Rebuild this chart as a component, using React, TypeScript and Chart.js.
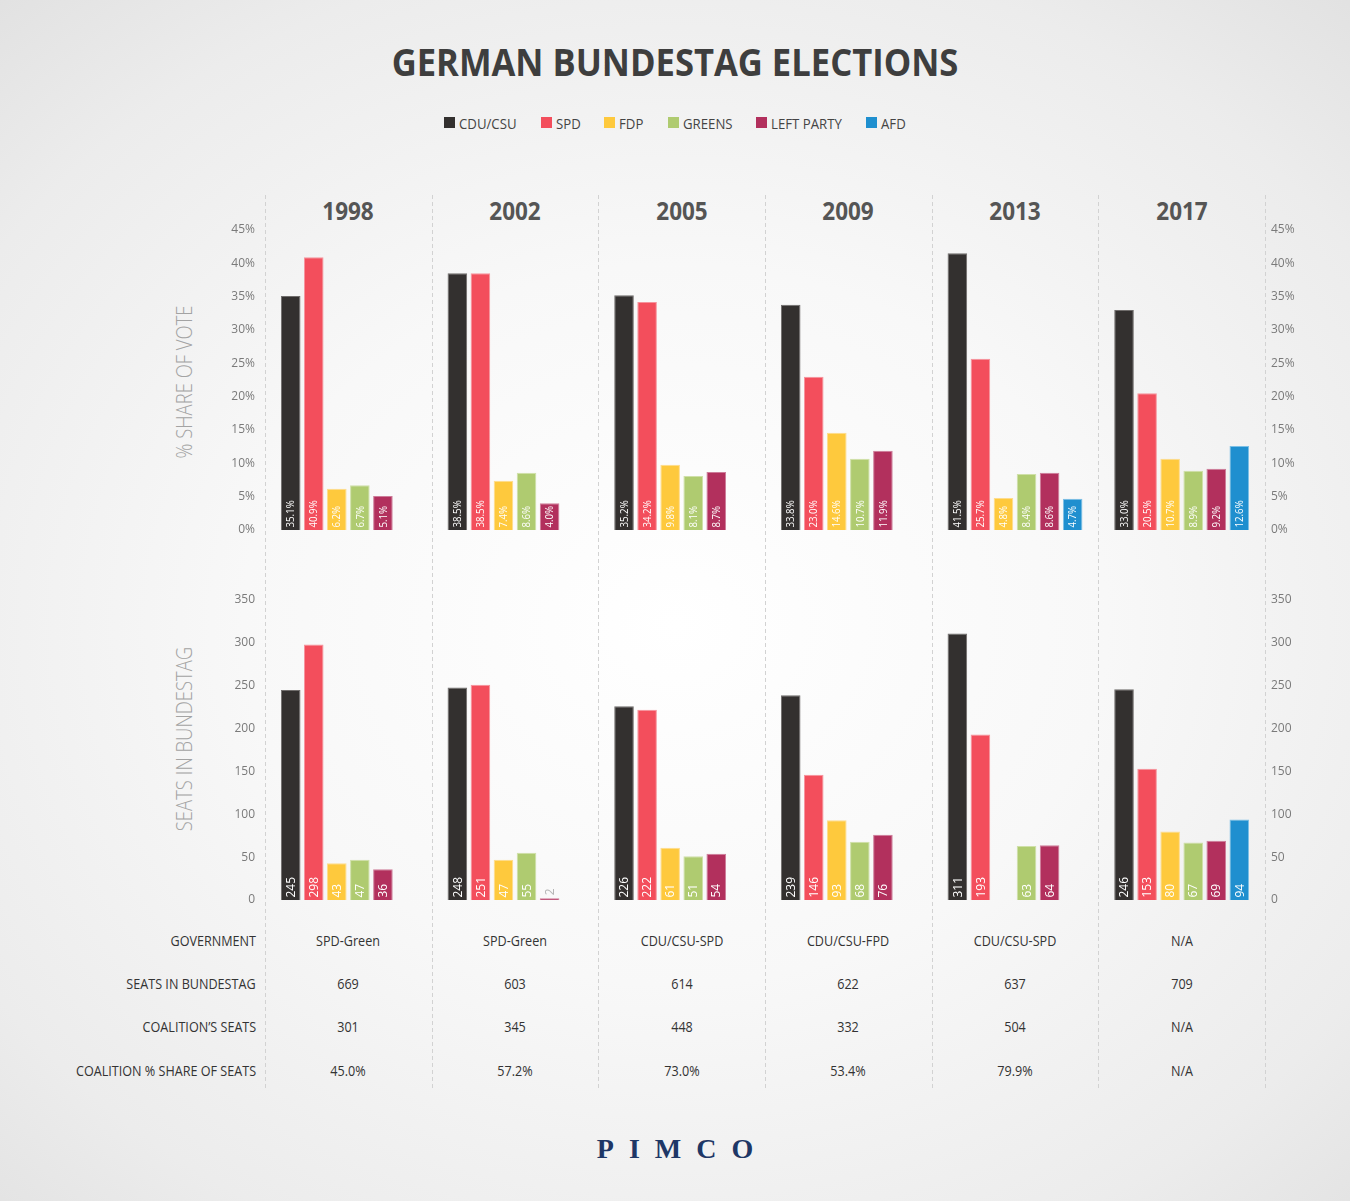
import { useEffect, useRef } from 'react';
import Chart from 'chart.js/auto';

const YEARS = ['1998', '2002', '2005', '2009', '2013', '2017'];
const PARTIES = ['CDU/CSU', 'SPD', 'FDP', 'GREENS', 'LEFT PARTY', 'AFD'];
const PARTY_COLORS = ['#33302f', '#f34e5c', '#fec93d', '#afcb70', '#b2305d', '#1f8fcf'];
const PARTY_EDGES = ['#6f6c6b', '#f6939c', '#fedc8c', '#cfe0a8', '#cd7c99', '#7bbfe6'];

// % share of vote, per party, per election year (null = no bar)
const VOTE_CDU = [35.1, 38.5, 35.2, 33.8, 41.5, 33.0];
const VOTE_SPD = [40.9, 38.5, 34.2, 23.0, 25.7, 20.5];
const VOTE_FDP = [6.2, 7.4, 9.8, 14.6, 4.8, 10.7];
const VOTE_GREENS = [6.7, 8.6, 8.1, 10.7, 8.4, 8.9];
const VOTE_LEFT = [5.1, 4.0, 8.7, 11.9, 8.6, 9.2];
const VOTE_AFD = [null, null, null, null, 4.7, 12.6];

// seats in Bundestag
const SEATS_CDU = [245, 248, 226, 239, 311, 246];
const SEATS_SPD = [298, 251, 222, 146, 193, 153];
const SEATS_FDP = [43, 47, 61, 93, null, 80];
const SEATS_GREENS = [47, 55, 51, 68, 63, 67];
const SEATS_LEFT = [36, 2, 54, 76, 64, 69];
const SEATS_AFD = [null, null, null, null, null, 94];

const ROW_LABELS = ['GOVERNMENT', 'SEATS IN BUNDESTAG', 'COALITION\u2019S SEATS', 'COALITION % SHARE OF SEATS'];
const GOVERNMENT = ['SPD-Green', 'SPD-Green', 'CDU/CSU-SPD', 'CDU/CSU-FPD', 'CDU/CSU-SPD', 'N/A'];
const TOTAL_SEATS = ['669', '603', '614', '622', '637', '709'];
const COALITION_SEATS = ['301', '345', '448', '332', '504', 'N/A'];
const COALITION_SHARE = ['45.0%', '57.2%', '73.0%', '53.4%', '79.9%', 'N/A'];

const VOTE_SERIES = [VOTE_CDU, VOTE_SPD, VOTE_FDP, VOTE_GREENS, VOTE_LEFT, VOTE_AFD];
const SEAT_SERIES = [SEATS_CDU, SEATS_SPD, SEATS_FDP, SEATS_GREENS, SEATS_LEFT, SEATS_AFD];
const TABLE_ROWS = [GOVERNMENT, TOTAL_SEATS, COALITION_SEATS, COALITION_SHARE];

// layout
const W = 1350;
const H = 1201;
const PLOT_LEFT = 265;
const PLOT_RIGHT = 1265;
const COL_W = (PLOT_RIGHT - PLOT_LEFT) / YEARS.length;
const FONT = '"Open Sans", "Noto Sans", sans-serif';

const measureCanvas = document.createElement('canvas').getContext('2d');
const textWidth = (text, font) => {
  measureCanvas.font = font;
  return measureCanvas.measureText(text).width;
};

const barLabels = {
  id: 'barLabels',
  afterDatasetsDraw(chart, args, opts) {
    const ctx = chart.ctx;
    chart.data.datasets.forEach((ds, di) => {
      const meta = chart.getDatasetMeta(di);
      meta.data.forEach((bar, i) => {
        const v = ds.data[i];
        if (v == null) return;
        const text = opts.mode === 'pct' ? v.toFixed(1) + '%' : String(v);
        const { x, y, base } = bar.getProps(['x', 'y', 'base'], true);
        ctx.save();
        ctx.font = `${opts.size}px ${FONT}`;
        const w = ctx.measureText(text).width * opts.squeeze;
        const inside = base - y >= w + 3;
        ctx.translate(x, inside ? base - 2.5 : y - 3);
        ctx.rotate(-Math.PI / 2);
        ctx.scale(opts.squeeze, 1);
        ctx.fillStyle = inside ? '#ffffff' : '#b5b5b5';
        ctx.textAlign = 'left';
        ctx.textBaseline = 'middle';
        ctx.fillText(text, 0, 0.5);
        ctx.restore();
      });
    });
  },
};

const BarPanel = ({ top, series, max, step, mode, labelSize, squeeze, suffix }) => {
  const canvasRef = useRef(null);
  const chartRef = useRef(null);

  useEffect(() => {
    if (chartRef.current) chartRef.current.destroy();

    const tickCfg = {
      min: 0,
      max,
      grid: { display: false, drawTicks: false },
      border: { display: false },
      ticks: {
        stepSize: step,
        color: '#7a7a7a',
        font: { family: FONT, size: 12 },
        callback: (v) => v + suffix,
      },
    };

    chartRef.current = new Chart(canvasRef.current, {
      type: 'bar',
      data: {
        labels: YEARS,
        datasets: series.map((data, i) => ({
          label: PARTIES[i],
          data,
          backgroundColor: PARTY_COLORS[i],
          borderColor: PARTY_EDGES[i],
          borderWidth: 1,
          borderSkipped: 'bottom',
          yAxisID: 'y',
          categoryPercentage: 0.83,
          barPercentage: 0.85,
        })),
      },
      options: {
        responsive: false,
        animation: false,
        layout: { padding: { top: 8, bottom: 8, left: 0, right: 0 } },
        scales: {
          x: { display: false },
          y: {
            ...tickCfg,
            position: 'left',
            ticks: { ...tickCfg.ticks, padding: 10 },
            afterFit: (s) => {
              s.width = PLOT_LEFT;
              s.paddingTop = 0;
              s.paddingBottom = 0;
            },
          },
          y2: {
            ...tickCfg,
            position: 'right',
            ticks: { ...tickCfg.ticks, padding: 6 },
            afterFit: (s) => {
              s.width = W - PLOT_RIGHT;
              s.paddingTop = 0;
              s.paddingBottom = 0;
            },
          },
        },
        plugins: {
          legend: { display: false },
          tooltip: { enabled: false },
          barLabels: { mode, size: labelSize, squeeze },
        },
      },
      plugins: [barLabels],
    });

    return () => {
      if (chartRef.current) {
        chartRef.current.destroy();
        chartRef.current = null;
      }
    };
  }, []);

  return (
    <canvas
      ref={canvasRef}
      width={W}
      height={316}
      style={{ position: 'absolute', left: 0, top, width: W, height: 316 }}
    ></canvas>
  );
};

// absolutely placed text, squeezed horizontally to mimic a condensed face
const Txt = ({ x, y, align = 'center', squeeze = 1, rotate = false, style = {}, children }) => {
  const base = { position: 'absolute', top: y, whiteSpace: 'nowrap', lineHeight: 1, fontFamily: FONT, ...style };
  if (rotate) {
    return (
      <div style={{ ...base, left: x, transform: `translate(-50%,-50%) rotate(-90deg) scaleX(${squeeze})`, transformOrigin: 'center' }}>
        {children}
      </div>
    );
  }
  if (align === 'right') {
    return (
      <div style={{ ...base, right: W - x, transform: `translateY(-50%) scaleX(${squeeze})`, transformOrigin: 'right center' }}>
        {children}
      </div>
    );
  }
  if (align === 'left') {
    return (
      <div style={{ ...base, left: x, transform: `translateY(-50%) scaleX(${squeeze})`, transformOrigin: 'left center' }}>
        {children}
      </div>
    );
  }
  return (
    <div style={{ ...base, left: x, transform: `translate(-50%,-50%) scaleX(${squeeze})`, transformOrigin: 'center' }}>
      {children}
    </div>
  );
};

const Legend = () => {
  const size = 15;
  const sq = 0.88;
  const font = `${size}px ${FONT}`;
  const items = PARTIES.map((p) => 11 + 4 + textWidth(p, font) * sq);
  const gap = 24;
  const total = items.reduce((a, b) => a + b, 0) + gap * (items.length - 1);
  let cx = W / 2 - total / 2;
  return (
    <>
      {PARTIES.map((p, i) => {
        const left = cx;
        cx += items[i] + gap;
        return (
          <div key={p}>
            <div style={{ position: 'absolute', left, top: 117, width: 11, height: 11, background: PARTY_COLORS[i] }} />
            <Txt x={left + 15} y={122.5} align="left" squeeze={sq} style={{ fontSize: size, color: '#444' }}>
              {p}
            </Txt>
          </div>
        );
      })}
    </>
  );
};

const App = () => {
  const rowY = [941, 984, 1027, 1071];
  const dividers = Array.from({ length: YEARS.length + 1 }, (_, i) => PLOT_LEFT + i * COL_W);

  return (
    <div
      style={{
        position: 'absolute',
        left: 0,
        top: 0,
        width: W,
        height: H,
        overflow: 'hidden',
        background: 'radial-gradient(ellipse 80% 75% at 50% 52%, #ffffff 0%, #f8f8f8 40%, #ececec 75%, #dedede 100%)',
      }}
    >
      <Txt x={W / 2} y={61} squeeze={0.91} style={{ fontSize: 38, fontWeight: 700, color: '#3e3e3e' }}>
        GERMAN BUNDESTAG ELECTIONS
      </Txt>
      <Legend />

      {dividers.map((x) => (
        <div
          key={x}
          style={{
            position: 'absolute',
            left: Math.round(x),
            top: 195,
            width: 1,
            height: 895,
            background: 'repeating-linear-gradient(to bottom, #d2d2d2 0px, #d2d2d2 4px, transparent 4px, transparent 7px)',
          }}
        />
      ))}

      {YEARS.map((yr, i) => (
        <Txt key={yr} x={PLOT_LEFT + (i + 0.5) * COL_W} y={210} squeeze={0.9} style={{ fontSize: 25, fontWeight: 700, color: '#555' }}>
          {yr}
        </Txt>
      ))}

      <Txt x={183} y={382} rotate squeeze={0.84} style={{ fontSize: 22, fontWeight: 300, color: '#a3a3a3' }}>
        % SHARE OF VOTE
      </Txt>
      <Txt x={183} y={739} rotate squeeze={0.84} style={{ fontSize: 22, fontWeight: 300, color: '#a3a3a3' }}>
        SEATS IN BUNDESTAG
      </Txt>

      <BarPanel top={222} series={VOTE_SERIES} max={45} step={5} mode="pct" labelSize={11} squeeze={0.88} suffix="%" />
      <BarPanel top={592} series={SEAT_SERIES} max={350} step={50} mode="num" labelSize={13} squeeze={0.92} suffix="" />

      {ROW_LABELS.map((label, r) => (
        <div key={label}>
          <Txt x={256} y={rowY[r]} align="right" squeeze={0.9} style={{ fontSize: 14, color: '#333' }}>
            {label}
          </Txt>
          {TABLE_ROWS[r].map((v, i) => (
            <Txt key={i} x={PLOT_LEFT + (i + 0.5) * COL_W} y={rowY[r]} squeeze={0.9} style={{ fontSize: 14, color: '#333' }}>
              {v}
            </Txt>
          ))}
        </div>
      ))}

      <Txt
        x={W / 2}
        y={1149}
        style={{
          fontFamily: '"Liberation Serif", "DejaVu Serif", serif',
          fontSize: 28,
          fontWeight: 700,
          color: '#1e3766',
          letterSpacing: 15,
          paddingLeft: 15,
        }}
      >
        PIMCO
      </Txt>
    </div>
  );
};

export default App;
